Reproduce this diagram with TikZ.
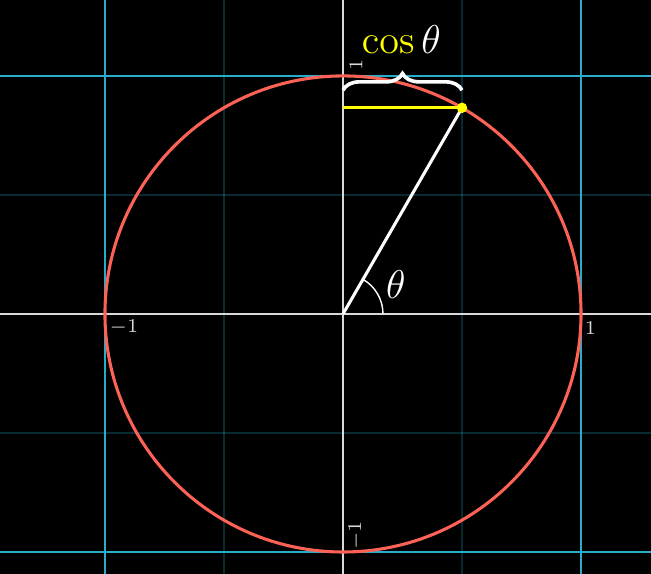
\documentclass[tikz,border=0pt]{standalone}
\usepackage{tikz}
\usetikzlibrary{decorations.pathreplacing, positioning}
\definecolor{gridblue}{HTML}{29ABCA}
\definecolor{circred}{HTML}{FC6255}
\definecolor{ptyellow}{HTML}{FFFF00}

\begin{document}
\begin{tikzpicture}[x=3cm,y=3cm]
\fill [black] (-1.441,-1.092) rectangle (1.294,1.319);
\useasboundingbox (-1.441,-1.092) rectangle (1.294,1.319);
% faint grid
\foreach \v in {-0.5,0.5} {
  \draw [gridblue, opacity=0.25, line width=0.4pt] (\v,-1.092) -- (\v,1.319);
  \draw [gridblue, opacity=0.25, line width=0.4pt] (-1.441,\v) -- (1.294,\v);
}
% main grid
\foreach \v in {-1,1} {
  \draw [gridblue, line width=0.6pt] (\v,-1.092) -- (\v,1.319);
  \draw [gridblue, line width=0.6pt] (-1.441,\v) -- (1.294,\v);
}
% axes
\draw [white!85!black, line width=0.7pt] (-1.441,0) -- (1.294,0);
\draw [white!85!black, line width=0.7pt] (0,-1.092) -- (0,1.319);
\node [font=\scriptsize, text=white!85!black] at (-0.92,-0.058) {$-1$};
\node [font=\scriptsize, text=white!85!black] at (1.04,-0.058) {$1$};
\node [font=\scriptsize, text=white!85!black, rotate=90] at (0.055,1.045) {$1$};
\node [font=\scriptsize, text=white!85!black, rotate=90] at (0.055,-0.93) {$-1$};
% unit circle
\coordinate (O) at (0,0);
\coordinate (P) at (60:1);
\coordinate (Q) at (0,{sin(60)});
\draw [circred, line width=1.1pt] (O) circle (1);
\draw [white, line width=1.1pt] (O) -- (P);
\draw [white, line width=0.5pt] (0.168,0) arc (0:60:0.168);
\node [font=\Large, text=white] (theta) at (0.222,0.125) {$\theta$};
\draw [ptyellow, line width=1.1pt] (Q) -- (P);
\fill [ptyellow] (P) circle (0.022);
% brace
\draw [white, line width=1.3pt, decoration={brace, amplitude=6pt}, decorate] (0,0.94) -- (0.5,0.94);
\node [font=\Large] (costheta) at (0.245,1.153) {\textcolor{ptyellow}{$\cos$}\,\textcolor{white}{$\theta$}};
\end{tikzpicture}
\end{document}
